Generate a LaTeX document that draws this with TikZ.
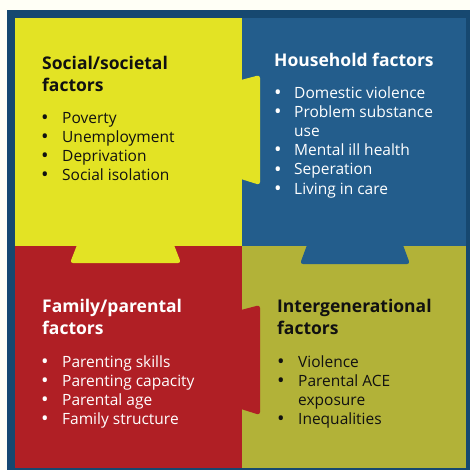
\documentclass[tikz,border=0pt]{standalone}
\usepackage{fontspec}
\setmainfont{Open Sans}
\definecolor{paper}{RGB}{255,255,246}
\definecolor{frame}{RGB}{22,72,112}
\definecolor{yel}{RGB}{227,227,36}
\definecolor{blu}{RGB}{35,93,140}
\definecolor{rd}{RGB}{176,31,37}
\definecolor{olv}{RGB}{178,178,56}
\definecolor{ink}{RGB}{17,17,17}
\tikzset{
	head/.style={anchor=base west,font=\bfseries\fontsize{17.5}{22}\selectfont,align=left,inner sep=0},
	item/.style={anchor=base west,font=\fontsize{15.5}{19}\selectfont,inner sep=0},
	dot/.style={anchor=base,font=\fontsize{20}{19}\selectfont,inner sep=0}
}
\begin{document}
\begin{tikzpicture}[x=1pt,y=-1pt]
	\useasboundingbox(0,0)rectangle(470,470);
	\fill[paper](0,0)rectangle(470,470);
	\fill[frame](7,10)rectangle(470,470);
	% quadrants
	\fill[yel](15,18)rectangle(242,246);
	\fill[blu](242,18)rectangle(466,246);
	\fill[rd](15,246)rectangle(242,468);
	\fill[olv](242,246)rectangle(466,468);
	% tabs
	\fill[yel](77,245)[rounded corners=3]--(70,263)--(181,263)[sharp corners]--(174,245)--cycle;
	\fill[blu](307,245)[rounded corners=3]--(300,264)--(410,264)[sharp corners]--(403,245)--cycle;
	\fill[yel](241,80)[rounded corners=3]--(260,75)--(260,185)[sharp corners]--(241,179)--cycle;
	\fill[rd](241,310)[rounded corners=3]--(260,305)--(260,415)[sharp corners]--(241,409)--cycle;
	% headings (base = last line)
	\node[head,text=ink](hs)at(42,92){Social/societal\\factors};
	\node[head,text=white](hh)at(274,67){Household factors};
	\node[head,text=white](hf)at(42,334){Family/parental\\factors};
	\node[head,text=ink](hi)at(277,334){Intergenerational\\factors};
	% lists
	\foreach \t[count=\i] in{Poverty,Unemployment,Deprivation,Social isolation}{
		\node[item,text=ink](s\i)at(62,124+19*\i-19){\t};
		\node[dot,text=ink]at(45,125+19*\i-19){\textbullet};
	}
	\foreach \t/\m[count=\i] in{Domestic violence/\textbullet,Problem substance/\textbullet,use/{},Mental ill health/\textbullet,Seperation/\textbullet,Living in care/\textbullet}{
		\node[item,text=white](h\i)at(294,99+19*\i-19){\t};
		\node[dot,text=white]at(278,100+19*\i-19){\m};
	}
	\foreach \t[count=\i] in{Parenting skills,Parenting capacity,Parental age,Family structure}{
		\node[item,text=white](f\i)at(62,367+19*\i-19){\t};
		\node[dot,text=white]at(45,368+19*\i-19){\textbullet};
	}
	\foreach \t/\m[count=\i] in{Violence/\textbullet,Parental ACE/\textbullet,exposure/{},Inequalities/\textbullet}{
		\node[item,text=ink](g\i)at(298,367+19*\i-19){\t};
		\node[dot,text=ink]at(281,368+19*\i-19){\m};
	}
\end{tikzpicture}
\end{document}
